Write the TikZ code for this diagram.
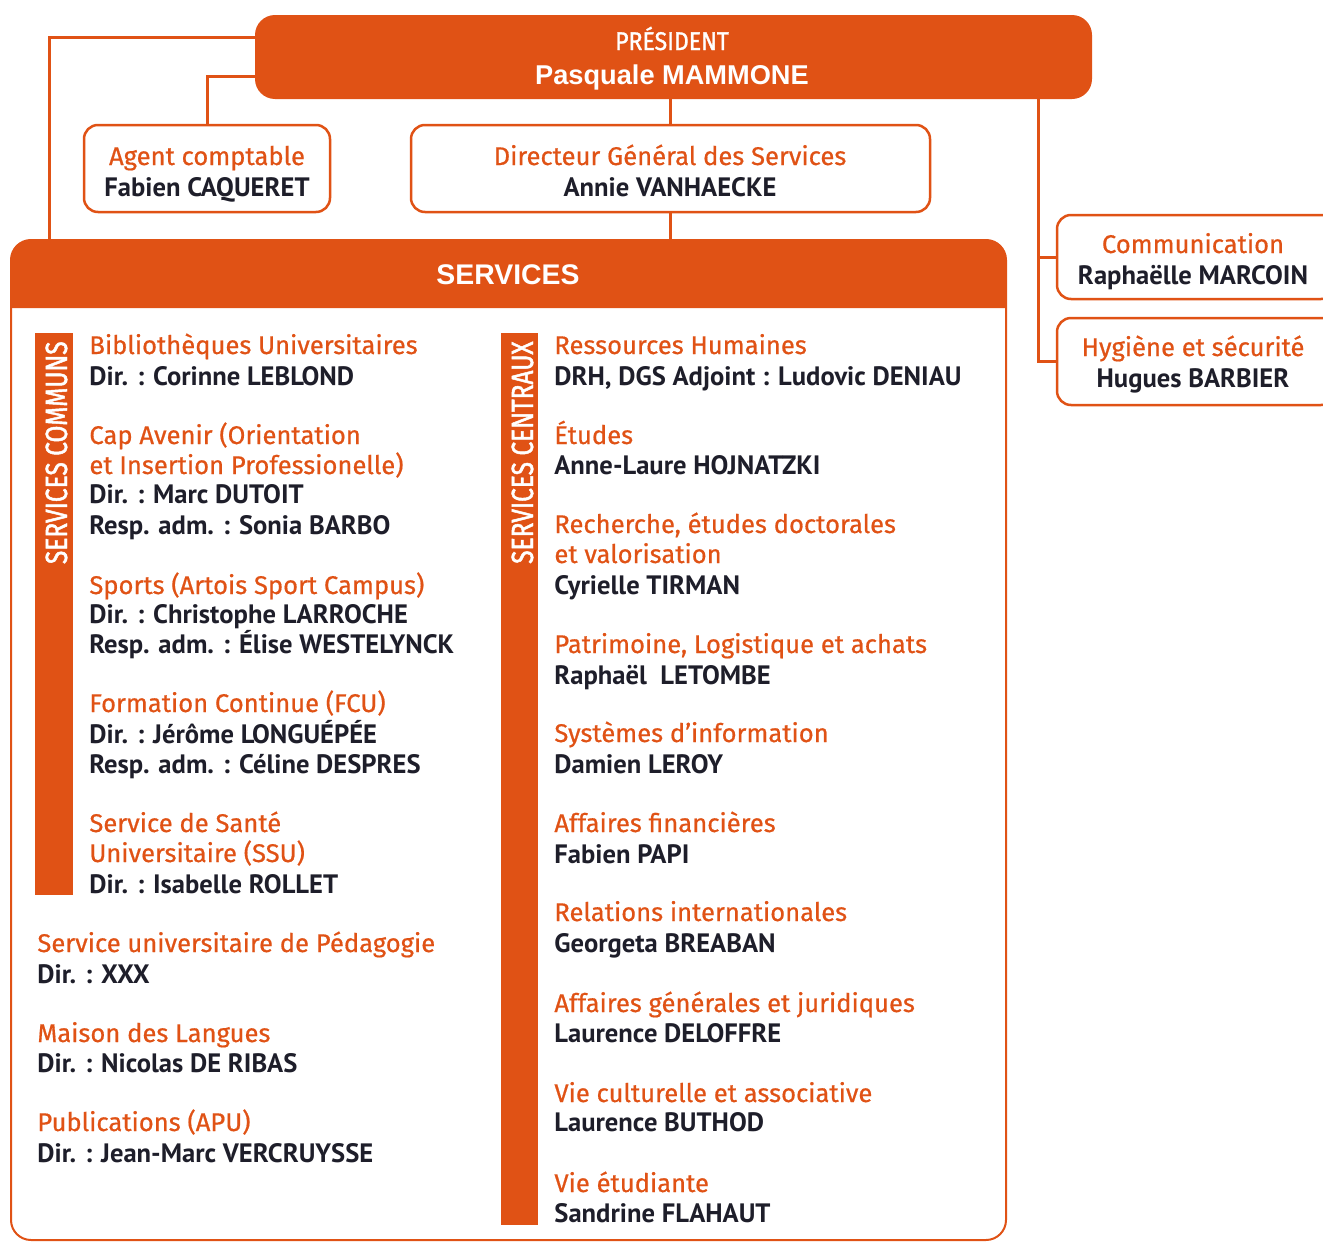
\documentclass[tikz,border=0pt]{standalone}
\usepackage{fontspec}
\newfontfamily\ofont[FakeBold=0.6]{Fira Sans}
\newfontfamily\pfont[FakeStretch=0.9,FakeBold=1.2]{Fira Sans}
\newfontfamily\bfont{PT Sans}
\newfontfamily\hfont{Liberation Sans}
\newfontfamily\vfont[FakeStretch=0.8,FakeBold=1.5]{Fira Sans}
\definecolor{orng}{HTML}{E05215}
\definecolor{dark}{HTML}{1E1E2A}
\tikzset{
  ot/.style={font=\ofont\fontsize{12.8}{14}\selectfont, text=orng, inner sep=0pt, anchor=base west},
  bt/.style={font=\bfont\bfseries\fontsize{13.3}{15}\selectfont, text=dark, inner sep=0pt, anchor=base west},
  otc/.style={ot, anchor=base},
  btc/.style={bt, anchor=base},
  wbox/.style={draw=orng, line width=1.25pt, fill=white, rounded corners=7pt, inner sep=0pt},
  conn/.style={draw=orng, line width=1.5pt},
  bar/.style={fill=orng, inner sep=0pt},
  vlab/.style={font=\vfont\fontsize{15.3}{16}\selectfont, text=white, inner sep=0pt, rotate=90, anchor=base east},
}
\newcommand\txtline[5]{\node[#2] (#1) at (#3,#4) {#5};}
\begin{document}
\begin{tikzpicture}[x=0.5pt,y=-0.5pt]
\useasboundingbox (0,0) rectangle (1323,1242);
\clip (0,0) rectangle (1323,1242);

% services frame
\node[draw=orng, line width=1pt, rounded corners=10pt, minimum width=497.5pt, minimum height=500pt, inner sep=0pt] (services) at (508.5,740) {};
\fill[orng] (11,308) [rounded corners=10pt]-- (11,240) -- (1006,240) [sharp corners]-- (1006,308) -- cycle;
\node[font=\hfont\bfseries\fontsize{14.2}{16}\selectfont, text=white, anchor=base, inner sep=0pt] (servT) at (508,284) {SERVICES};

% top boxes
\node[fill=orng, rounded corners=10pt, minimum width=418.5pt, minimum height=42pt, inner sep=0pt] (pres) at (673.5,57) {};
\node[font=\pfont\fontsize{12.8}{14}\selectfont, text=white, anchor=base, inner sep=0pt] (presT1) at (672,50) {PRÉSIDENT};
\node[font=\hfont\bfseries\fontsize{13.6}{15}\selectfont, text=white, anchor=base, inner sep=0pt] (presT2) at (672,84) {Pasquale MAMMONE};

\node[wbox, minimum width=123pt, minimum height=43.5pt] (agent) at (207,168.5) {};
\txtline{agentT1}{otc}{207}{165}{Agent comptable}
\txtline{agentT2}{btc}{207}{196}{Fabien CAQUERET}

\node[wbox, minimum width=259.5pt, minimum height=43.5pt] (dgs) at (670.5,168.5) {};
\txtline{dgsT1}{otc}{670}{165}{Directeur Général des Services}
\txtline{dgsT2}{btc}{670}{196}{Annie VANHAECKE}

\node[wbox, minimum width=139pt, minimum height=42pt] (comm) at (1196,257) {};
\txtline{commT1}{otc}{1193}{253}{Communication}
\txtline{commT2}{btc}{1193}{284}{Raphaëlle MARCOIN}

\node[wbox, minimum width=139pt, minimum height=43.5pt] (hyg) at (1196,361.5) {};
\txtline{hygT1}{otc}{1193}{356}{Hygiène et sécurité}
\txtline{hygT2}{btc}{1193}{387}{Hugues BARBIER}

% connectors
\draw[conn] ([yshift=10pt]pres.west) -| ([xshift=19.5pt]services.north west);
\draw[conn] ([yshift=-9.5pt]pres.west) -| (agent.north);
\draw[conn] (dgs.north |- pres.south) -- (dgs.north);
\draw[conn] (dgs.south) -- (dgs.south |- services.north);
\draw[conn] ([xshift=-27pt]pres.south east) |- (hyg.west);
\draw[conn] (comm.west) -- ++(-9.5pt,0);

% bars
\node[bar, minimum width=19pt, minimum height=281pt] (commbar) at (54,614) {};
\node[vlab] (commbarT) at (67,341) {SERVICES COMMUNS};
\node[bar, minimum width=18.5pt, minimum height=446pt] (centbar) at (519.5,779) {};
\node[vlab] (centbarT) at (533,341) {SERVICES CENTRAUX};

% left column
\txtline{l1}{ot}{89}{354}{Bibliothèques Universitaires}
\txtline{l2}{bt}{89}{385}{Dir. : Corinne LEBLOND}
\txtline{l3}{ot}{89}{444}{Cap Avenir (Orientation}
\txtline{l4}{ot}{89}{474}{et Insertion Professionelle)}
\txtline{l5}{bt}{89}{503}{Dir. : Marc DUTOIT}
\txtline{l6}{bt}{89}{534}{Resp. adm. : Sonia BARBO}
\txtline{l7}{ot}{89}{594}{Sports (Artois Sport Campus)}
\txtline{l8}{bt}{89}{623}{Dir. : Christophe LARROCHE}
\txtline{l9}{bt}{89}{653}{Resp. adm. : Élise WESTELYNCK}
\txtline{l10}{ot}{89}{712}{Formation Continue (FCU)}
\txtline{l11}{bt}{89}{743}{Dir. : Jérôme LONGUÉPÉE}
\txtline{l12}{bt}{89}{773}{Resp. adm. : Céline DESPRES}
\txtline{l13}{ot}{89}{832}{Service de Santé}
\txtline{l14}{ot}{89}{862}{Universitaire (SSU)}
\txtline{l15}{bt}{89}{893}{Dir. : Isabelle ROLLET}
\txtline{l16}{ot}{37}{952}{Service universitaire de Pédagogie}
\txtline{l17}{bt}{37}{983}{Dir. : XXX}
\txtline{l18}{ot}{37}{1042}{Maison des Langues}
\txtline{l19}{bt}{37}{1072}{Dir. : Nicolas DE RIBAS}
\txtline{l20}{ot}{37}{1131}{Publications (APU)}
\txtline{l21}{bt}{37}{1162}{Dir. : Jean-Marc VERCRUYSSE}

% right column
\txtline{r1}{ot}{554}{354}{Ressources Humaines}
\txtline{r2}{bt}{554}{385}{DRH, DGS Adjoint : Ludovic DENIAU}
\txtline{r3}{ot}{554}{444}{Études}
\txtline{r4}{bt}{554}{474}{Anne-Laure HOJNATZKI}
\txtline{r5}{ot}{554}{533}{Recherche, études doctorales}
\txtline{r6}{ot}{554}{563}{et valorisation}
\txtline{r7}{bt}{554}{594}{Cyrielle TIRMAN}
\txtline{r8}{ot}{554}{653}{Patrimoine, Logistique et achats}
\txtline{r9}{bt}{554}{684}{Raphaël\ \ LETOMBE}
\txtline{r10}{ot}{554}{742}{Systèmes d’information}
\txtline{r11}{bt}{554}{773}{Damien LEROY}
\txtline{r12}{ot}{554}{832}{Affaires financières}
\txtline{r13}{bt}{554}{863}{Fabien PAPI}
\txtline{r14}{ot}{554}{921}{Relations internationales}
\txtline{r15}{bt}{554}{952}{Georgeta BREABAN}
\txtline{r16}{ot}{554}{1012}{Affaires générales et juridiques}
\txtline{r17}{bt}{554}{1042}{Laurence DELOFFRE}
\txtline{r18}{ot}{554}{1102}{Vie culturelle et associative}
\txtline{r19}{bt}{554}{1131}{Laurence BUTHOD}
\txtline{r20}{ot}{554}{1192}{Vie étudiante}
\txtline{r21}{bt}{554}{1222}{Sandrine FLAHAUT}
\end{tikzpicture}
\end{document}
